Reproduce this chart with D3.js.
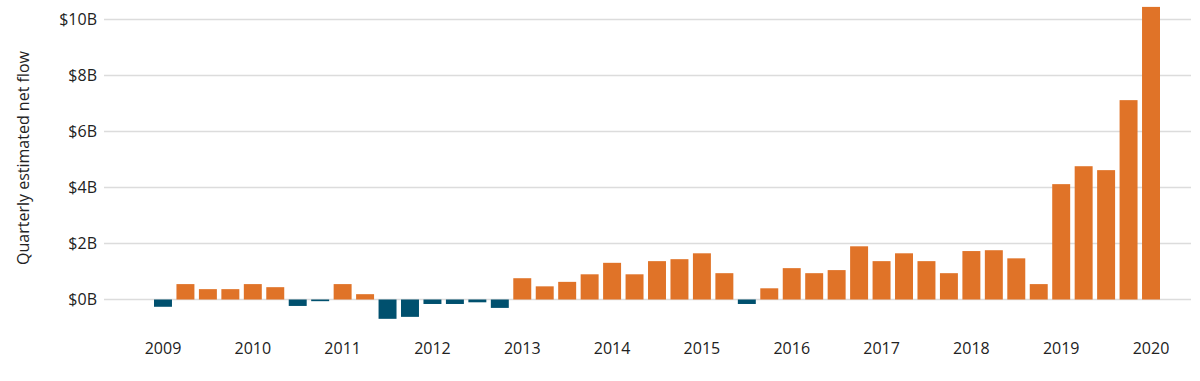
<!DOCTYPE html>
<html>
<head>
<meta charset="utf-8">
<script src="https://cdn.jsdelivr.net/npm/d3@7"></script>
<style>
  html, body { margin: 0; padding: 0; background: #ffffff; }
  svg { display: block; }
  .axis text { font-family: "Open Sans", sans-serif; font-size: 16px; fill: #222222; }
  .title { font-family: "Open Sans", sans-serif; font-size: 16px; fill: #222222; }
</style>
</head>
<body>
<svg id="chart" width="1200" height="381"></svg>
<script>
// ---- data ----
const years = ["2009","2010","2011","2012","2013","2014","2015","2016","2017","2018","2019","2020"];
const quarters = [];
years.forEach(y => { ["Q1","Q2","Q3","Q4"].forEach(q => { if (!(y === "2020" && q !== "Q1")) quarters.push(y + " " + q); }); });
// Quarterly estimated net flow, $B
const netFlow = [
  -0.26, 0.55, 0.37, 0.37,
   0.55, 0.44, -0.23, -0.06,
   0.55, 0.19, -0.69, -0.62,
  -0.16, -0.16, -0.10, -0.30,
   0.76, 0.47, 0.63, 0.90,
   1.31, 0.90, 1.37, 1.44,
   1.65, 0.94, -0.16, 0.40,
   1.12, 0.94, 1.05, 1.90,
   1.37, 1.65, 1.37, 0.94,
   1.73, 1.76, 1.47, 0.55,
   4.12, 4.76, 4.62, 7.12,
  10.45
];
const yTicks = [0, 2, 4, 6, 8, 10];
const yTitle = "Quarterly estimated net flow";

// ---- layout ----
const svg = d3.select("#chart");
const gridX0 = 104, gridX1 = 1191;

const x = d3.scaleBand()
  .domain(quarters)
  .range([154, 1160])
  .paddingInner(0.2)
  .paddingOuter(0);

const y = d3.scaleLinear()
  .domain([0, 10])
  .range([299.5, 19.5]);

// gridlines
svg.append("g")
  .selectAll("line")
  .data(yTicks)
  .join("line")
  .attr("x1", gridX0)
  .attr("x2", gridX1)
  .attr("y1", d => y(d))
  .attr("y2", d => y(d))
  .attr("stroke", "#dcdcdc")
  .attr("stroke-width", 1.5);

// bars
svg.append("g")
  .selectAll("rect")
  .data(quarters.map((q, i) => ({ q, v: netFlow[i] })))
  .join("rect")
  .attr("x", d => x(d.q))
  .attr("width", x.bandwidth())
  .attr("y", d => y(Math.max(0, d.v)))
  .attr("height", d => Math.abs(y(d.v) - y(0)))
  .attr("fill", d => d.v >= 0 ? "#e07328" : "#00506e");

// y axis
const yAxis = svg.append("g")
  .attr("class", "axis")
  .attr("transform", `translate(${gridX0},0)`)
  .call(d3.axisLeft(y).tickValues(yTicks).tickSize(0).tickPadding(7).tickFormat(d => "$" + d + "B"));
yAxis.select(".domain").remove();

// x axis
const xAxis = svg.append("g")
  .attr("class", "axis")
  .attr("transform", `translate(0,${y(0)})`)
  .call(d3.axisBottom(x)
    .tickValues(quarters.filter(q => q.endsWith("Q1")))
    .tickSize(0)
    .tickPadding(43)
    .tickFormat(q => q.slice(0, 4)));
xAxis.select(".domain").remove();

// y title
svg.append("text")
  .attr("class", "title")
  .attr("transform", "translate(29,158) rotate(-90)")
  .attr("text-anchor", "middle")
  .text(yTitle);
</script>
</body>
</html>
